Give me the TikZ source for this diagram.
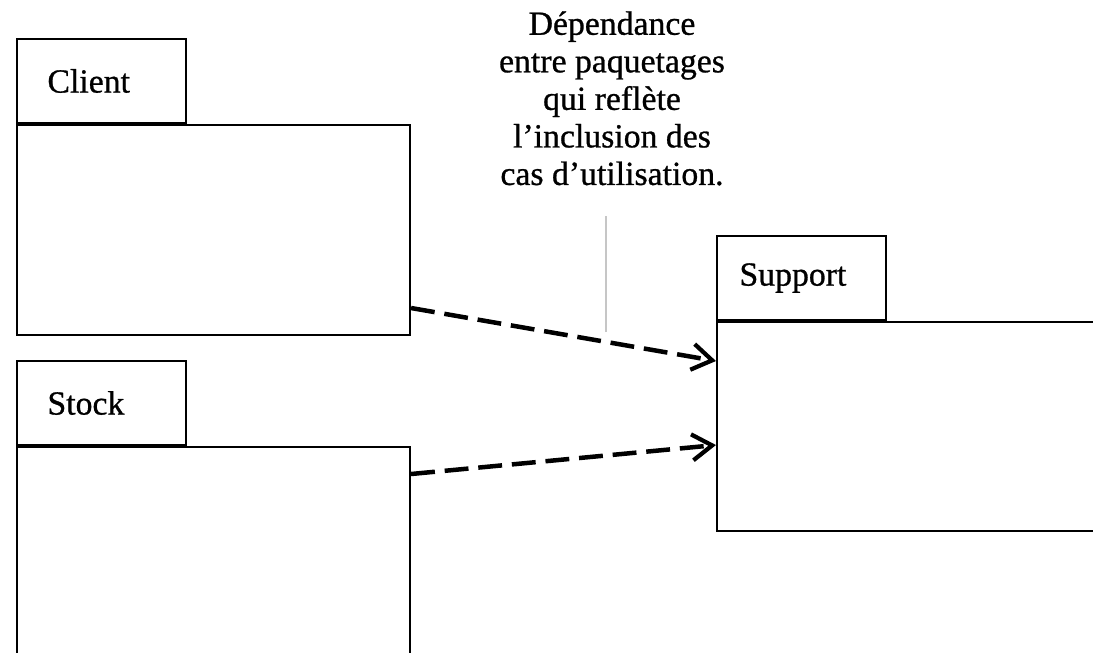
\documentclass[tikz,border=0pt]{standalone}
\usepackage{fontspec}
\setmainfont[FakeBold=0.8]{Liberation Serif}
\usepackage{tikz}
\usetikzlibrary{arrows.meta, positioning}
\usepackage{xcolor}

\tikzset{
    pkgbody/.style={draw=black, line width=1.4pt, anchor=north west, inner sep=0pt},
    pkgtab/.style={draw=black, line width=1.4pt, anchor=south west, inner sep=0pt,
        minimum width=4.225cm, minimum height=2.1cm, text width=2.7cm, inner xsep=0.7cm,
        align=left, font=\fontsize{24}{26.7}\selectfont},
    depend/.style={line width=3.2pt, dash pattern=on 17pt off 7pt,
        -{Straight Barb[length=0.5cm, width=0.65cm, line width=3pt]}},
    noteline/.style={draw=gray!45, line width=0.8pt}
}

\begin{document}
\begin{tikzpicture}[x=0.025cm, y=-0.025cm]
            \useasboundingbox (0,0) rectangle (1093,652);

            \node[pkgbody, minimum width=9.825cm, minimum height=5.25cm] (client) at (16,124) {};
            \node[pkgtab, above right=0pt of client.north west, anchor=south west] (clienttab) {Client};

            \node[pkgbody, minimum width=9.825cm, minimum height=6cm] (stock) at (16,446) {};
            \node[pkgtab, above right=0pt of stock.north west, anchor=south west] (stocktab) {Stock};

            \node[pkgbody, minimum width=10cm, minimum height=5.225cm] (support) at (716,321) {};
            \node[pkgtab, inner xsep=0.55cm, text width=3.1cm, above right=0pt of support.north west, anchor=south west] (supporttab) {Support};

            \node[align=center, inner sep=0pt, anchor=north, font=\fontsize{24}{26.7}\selectfont] (note) at (612,11)
                {Dépendance\\entre paquetages\\qui reflète\\l’inclusion des\\cas d’utilisation.};

            \coordinate (notefoot) at (606,332);

            \draw[depend] ([yshift=0.7cm]client.south east) -- ([yshift=-1cm]support.north west);
            \draw[depend] ([yshift=-0.7cm]stock.north east) -- ([yshift=-3.1cm]support.north west);

            \draw[noteline, shorten >=0.75cm] (notefoot) -- (notefoot |- note.south);
        \end{tikzpicture}
\end{document}
